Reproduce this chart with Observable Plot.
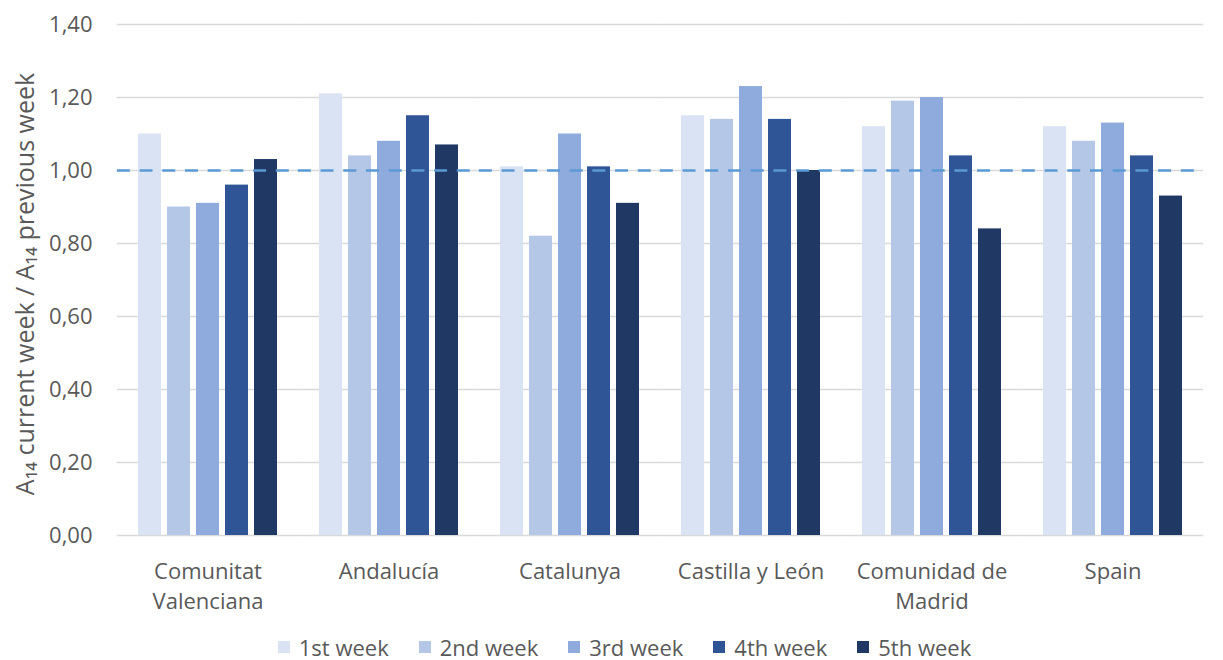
<!DOCTYPE html>
<html><head><meta charset="utf-8">
<script src="https://cdn.jsdelivr.net/npm/d3@7"></script>
<script src="https://cdn.jsdelivr.net/npm/@observablehq/plot@0.6"></script>
<style>
body{margin:0;background:#fff;font-family:"Open Sans",sans-serif;overflow:hidden;}
#chart svg{display:block;}
#legend{display:flex;justify-content:center;padding-left:26px;padding-top:12px;}
.lg-swatches{margin-bottom:0 !important;}
.lg-swatches-wrap{min-height:0 !important;line-height:26px;}
.lg-swatch{margin-right:30px !important;}
.lg-swatch:last-child{margin-right:0 !important;}
.lg-swatch > svg{margin-right:9px !important;}
</style>
</head><body><div id="chart"></div><div id="legend"></div>
<script>
const regions = ["Comunitat Valenciana","Andalucía","Catalunya","Castilla y León","Comunidad de Madrid","Spain"];
const weeks = ["1st week","2nd week","3rd week","4th week","5th week"];
const week1 = [1.10, 1.21, 1.01, 1.15, 1.12, 1.12];
const week2 = [0.90, 1.04, 0.82, 1.14, 1.19, 1.08];
const week3 = [0.91, 1.08, 1.10, 1.23, 1.20, 1.13];
const week4 = [0.96, 1.15, 1.01, 1.14, 1.04, 1.04];
const week5 = [1.03, 1.07, 0.91, 1.00, 0.84, 0.93];
const colors = ["#dae3f3","#b4c7e7","#8faadc","#2f5597","#203864"];
const yTicks = [0, 0.2, 0.4, 0.6, 0.8, 1.0, 1.2, 1.4];
const yLabel = "A₁₄ current week / A₁₄ previous week";
const series = [week1, week2, week3, week4, week5];
const data = regions.flatMap((r, i) => weeks.map((w, j) => ({region: r, week: w, value: series[j][i]})));
const fmt = d => d3.format(".2f")(d).replace(".", ",");
const wrap = d => d.replace("Comunitat ", "Comunitat\n").replace("Comunidad de ", "Comunidad de\n");
const font = '"Open Sans", sans-serif';
const W = 1223, ML = 115, MR = 18;
const step = (W - ML - MR) / 6;
const half = step * 0.1; // half gap between facets
const dash = 13, gap = step / 8 - dash;

const chart = Plot.plot({
  width: W, height: 622,
  marginLeft: ML, marginRight: MR, marginTop: 24, marginBottom: 87,
  style: {fontFamily: font, color: "#595959", background: "#fff"},
  fx: {domain: regions, paddingInner: 0.2, paddingOuter: 0.1},
  x: {domain: weeks, paddingInner: 0.2, paddingOuter: 0.1, axis: null},
  y: {domain: [0, 1.4]},
  color: {domain: weeks, range: colors},
  marks: [
    Plot.ruleY(yTicks, {stroke: "#d9d9d9", strokeWidth: 1.5, insetLeft: -half, insetRight: -half}),
    Plot.barY(data, {fx: "region", x: "week", y: "value", fill: "week"}),
    Plot.ruleY([1], {stroke: "#5b9bd5", strokeWidth: 2.5, strokeDasharray: `${dash},${gap}`, insetLeft: -half, insetRight: -half}),
    Plot.axisY({ticks: yTicks, tickFormat: fmt, tickSize: 0, tickPadding: 43, fontSize: 22, label: null}),
    Plot.text([yLabel], {fx: () => regions[0], frameAnchor: "left", rotate: -90, dx: -110, dy: 4, fontSize: 25, textAnchor: "middle", fill: "#595959"}),
    Plot.axisFx({anchor: "bottom", tickSize: 0, tickPadding: 22, fontSize: 22, lineHeight: 1.36, label: null, tickFormat: wrap})
  ]
});
document.getElementById("chart").appendChild(chart);

const legend = Plot.legend({
  color: {domain: weeks, range: colors},
  legend: "swatches", swatchSize: 12, className: "lg",
  style: {fontSize: "22px", color: "#595959", fontFamily: font}
});
document.getElementById("legend").appendChild(legend);
</script>
</body></html>
